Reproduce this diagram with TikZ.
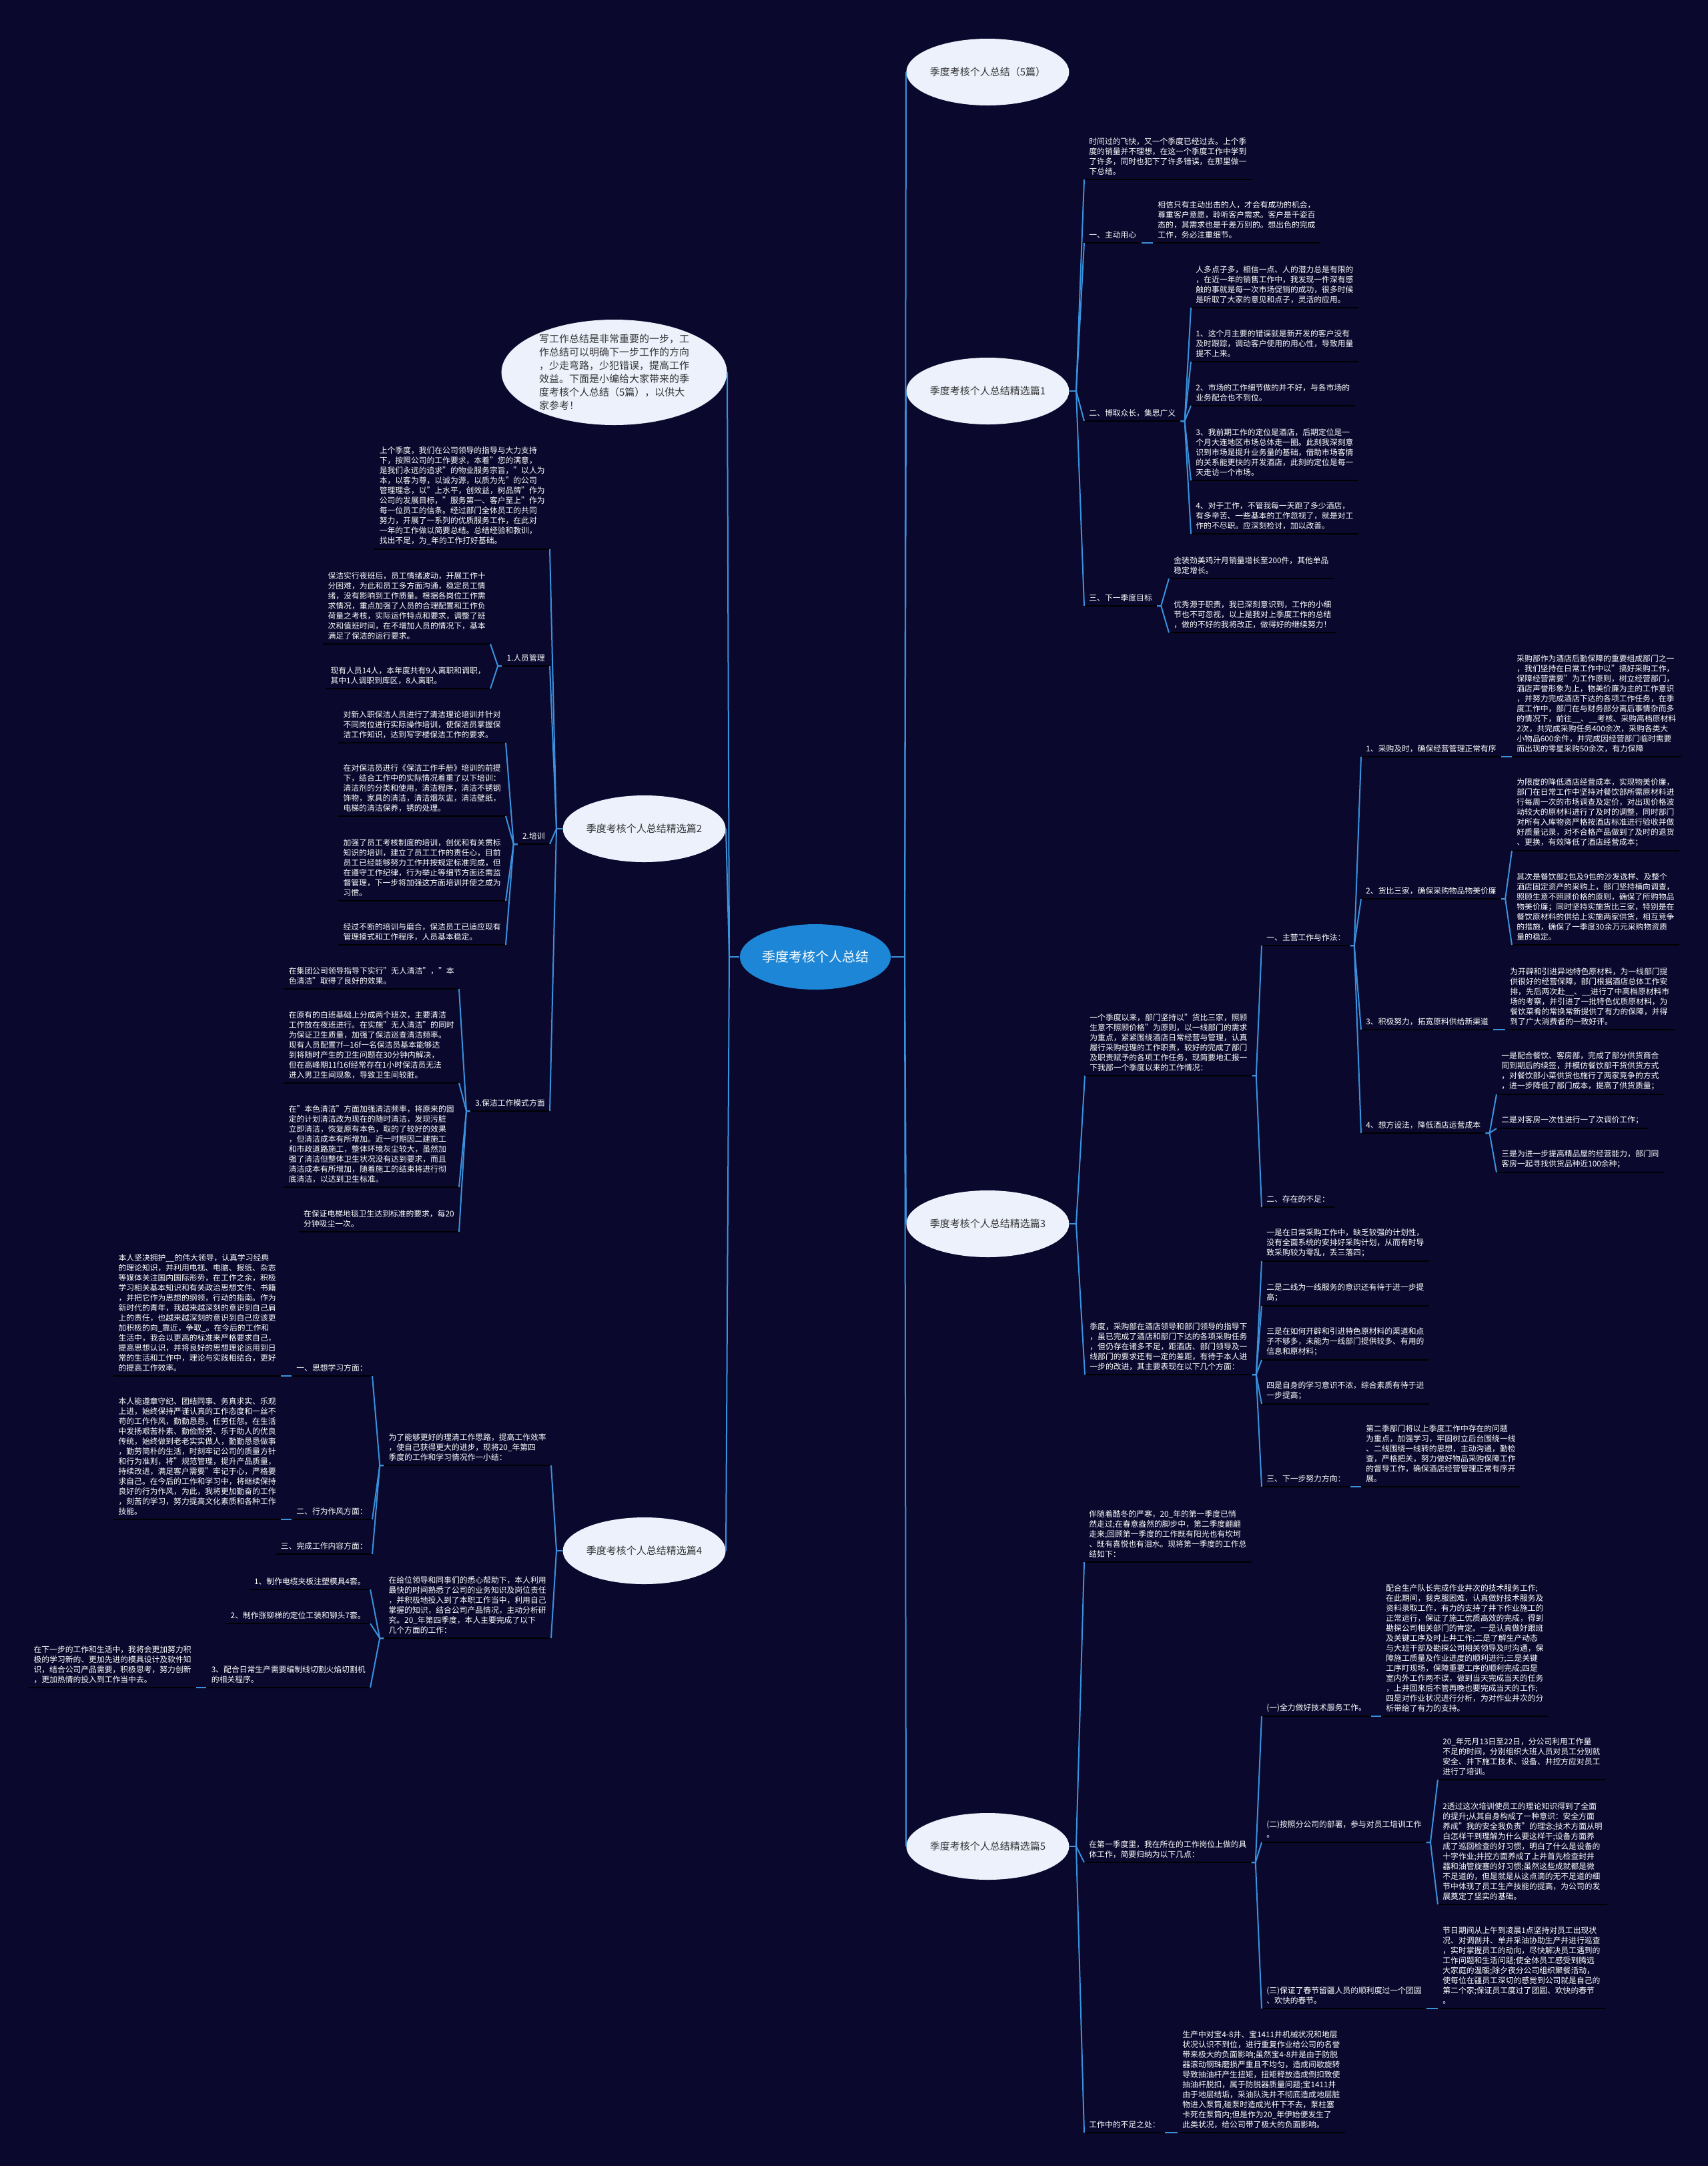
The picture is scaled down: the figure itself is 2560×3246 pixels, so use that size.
\documentclass[tikz,border=0pt]{standalone}
\usepackage{fontspec}
\setmainfont{Noto Sans CJK SC}
\usetikzlibrary{shapes.geometric}

\definecolor{bgnavy}{RGB}{10,8,44}
\definecolor{linkblue}{RGB}{58,146,222}
\definecolor{rootblue}{RGB}{30,134,214}
\definecolor{paleblue}{RGB}{236,241,252}
\definecolor{inkgrey}{RGB}{51,51,51}

\tikzset{
  uline/.style={draw=black, line width=0.9pt},
  link/.style={draw=linkblue, line width=1pt},
  txt/.style={anchor=south west, align=left, text=white, inner xsep=3.5pt, inner ysep=3pt,
    font=\fontsize{5.9}{7.5}\selectfont,
    append after command={(\tikzlastnode.south west) edge[uline] (\tikzlastnode.south east)}},
  txtl/.style={txt, anchor=south east},
  branch/.style={ellipse, fill=paleblue, text=inkgrey, minimum width=122pt, minimum height=50pt,
    inner xsep=-2pt, inner ysep=0pt, font=\fontsize{7.5}{10}\selectfont},
  centre/.style={ellipse, fill=rootblue, text=white, minimum width=112pt, minimum height=49pt,
    inner sep=0pt, font=\fontsize{10}{12}\selectfont}
}

\begin{document}
\begin{tikzpicture}[x=0.5pt, y=-0.5pt]
\fill[bgnavy] (0,0) rectangle (2560,3246);
\useasboundingbox (0,0) rectangle (2560,3246);

\node[centre] (root) at (1222,1434) {季度考核个人总结};
\node[branch, anchor=west] (top) at (1358,108) {季度考核个人总结（5篇）};
\node[branch, anchor=west] (p1) at (1358,586) {季度考核个人总结精选篇1};
\node[branch, anchor=west] (p3) at (1358,1834) {季度考核个人总结精选篇3};
\node[branch, anchor=west] (p5) at (1358,2767) {季度考核个人总结精选篇5};
\node[branch, anchor=east] (p2) at (1088,1242) {季度考核个人总结精选篇2};
\node[branch, anchor=east] (p4) at (1088,2324) {季度考核个人总结精选篇4};
\node[branch, anchor=east, minimum width=169pt, minimum height=79pt, inner xsep=0pt, inner ysep=-3pt, align=left] (intro) at (1090,558) {写工作总结是非常重要的一步，工\\作总结可以明确下一步工作的方向\\，少走弯路，少犯错误，提高工作\\效益。下面是小编给大家带来的季\\度考核个人总结（5篇），以供大\\家参考！};

\coordinate (rj) at (1356,1434);
\coordinate (lj) at (1093,1434);
\draw[link] (root.east) -- (rj);
\foreach \b in {top,p1,p3,p5} \draw[link] (rj) -- (\b.west);
\draw[link] (root.west) -- (lj);
\foreach \b in {intro,p2,p4} \draw[link] (lj) -- (\b.east);

\node[txt] (s1) at (1625,269) {时间过的飞快，又一个季度已经过去。上个季\\度的销量并不理想，在这一个季度工作中学到\\了许多，同时也犯下了许多错误，在那里做一\\下总结。};
\node[txt] (s1a) at (1625,364) {一、主动用心};
\node[txt] (s1a1) at (1728,364) {相信只有主动出击的人，才会有成功的机会，\\尊重客户意愿，聆听客户需求。客户是千姿百\\态的，其需求也是千差万别的。想出色的完成\\工作，务必注重细节。};
\node[txt] (s1b) at (1625,631) {二、博取众长，集思广义};
\node[txt] (s1b1) at (1785,461) {人多点子多，相信一点、人的潜力总是有限的\\，在近一年的销售工作中，我发现一件深有感\\触的事就是每一次市场促销的成功，很多时候\\是听取了大家的意见和点子，灵活的应用。};
\node[txt] (s1b2) at (1785,542) {1、这个月主要的错误就是新开发的客户没有\\及时跟踪，调动客户使用的用心性，导致用量\\提不上来。};
\node[txt] (s1b3) at (1785,608) {2、市场的工作细节做的并不好，与各市场的\\业务配合也不到位。};
\node[txt] (s1b4) at (1785,720) {3、我前期工作的定位是酒店，后期定位是一\\个月大连地区市场总体走一圈。此刻我深刻意\\识到市场是提升业务量的基础，借助市场客情\\的关系能更快的开发酒店，此刻的定位是每一\\天走访一个市场。};
\node[txt] (s1b5) at (1785,800) {4、对于工作，不管我每一天跑了多少酒店，\\有多辛苦、一些基本的工作忽视了，就是对工\\作的不尽职。应深刻检讨，加以改善。};
\node[txt] (s1c) at (1625,908) {三、下一季度目标};
\node[txt] (s1c1) at (1752,867) {金装劲美鸡汁月销量增长至200件，其他单品\\稳定增长。};
\node[txt] (s1c2) at (1752,948) {优秀源于职责，我已深刻意识到，工作的小细\\节也不可忽视，以上是我对上季度工作的总结\\，做的不好的我将改正，做得好的继续努力！};

\coordinate (j1) at (1613,586);
\draw[link] (p1.east) -- (j1);
\foreach \c in {s1,s1a,s1b,s1c} \draw[link] (j1) -- (\c.south west);
\draw[link] (s1a.south east) -- (s1a1.south west);
\coordinate (j1b) at ([xshift=3pt]s1b.south east);
\foreach \c in {s1b1,s1b2,s1b3,s1b4,s1b5} \draw[link] (s1b.south east) -- (j1b) -- (\c.south west);
\coordinate (j1c) at ([xshift=3pt]s1c.south east);
\foreach \c in {s1c1,s1c2} \draw[link] (s1c.south east) -- (j1c) -- (\c.south west);

\node[txt] (s3a) at (1626,1612) {一个季度以来，部门坚持以"货比三家，照顾\\生意不照顾价格"为原则，以一线部门的需求\\为重点，紧紧围绕酒店日常经营与管理，认真\\履行采购经理的工作职责，较好的完成了部门\\及职责赋予的各项工作任务，现简要地汇报一\\下我部一个季度以来的工作情况：};
\node[txt] (s3a1) at (1891,1417) {一、主营工作与作法：};
\node[txt] (s3a2) at (1891,1809) {二、存在的不足：};
\node[txt] (t1) at (2040,1134) {1、采购及时，确保经营管理正常有序};
\node[txt] (t1a) at (2266,1134) {采购部作为酒店后勤保障的重要组成部门之一\\，我们坚持在日常工作中以"搞好采购工作，\\保障经营需要"为工作原则，树立经营部门，\\酒店声誉形象为上，物美价廉为主的工作意识\\，并努力完成酒店下达的各项工作任务，在季\\度工作中，部门在与财务部分离后事情杂而多\\的情况下，前往\_\_、\_\_考核、采购高档原材料\\2次，共完成采购任务400余次，采购各类大\\小物品600余件，并完成因经营部门临时需要\\而出现的零星采购50余次，有力保障};
\node[txt] (t2) at (2040,1347) {2、货比三家，确保采购物品物美价廉};
\node[txt] (t2a) at (2266,1275) {为限度的降低酒店经营成本，实现物美价廉，\\部门在日常工作中坚持对餐饮部所需原材料进\\行每周一次的市场调查及定价，对出现价格波\\动较大的原材料进行了及时的调整，同时部门\\对所有入库物资严格按酒店标准进行验收并做\\好质量记录，对不合格产品做到了及时的退货\\、更换，有效降低了酒店经营成本；};
\node[txt] (t2b) at (2266,1416) {其次是餐饮部2包及9包的沙发选样、及整个\\酒店固定资产的采购上，部门坚持横向调查，\\照顾生意不照顾价格的原则，确保了所购物品\\物美价廉；同时坚持实施货比三家，特别是在\\餐饮原材料的供给上实施两家供货，相互竞争\\的措施，确保了一季度30余万元采购物资质\\量的稳定。};
\node[txt] (t3) at (2040,1543) {3、积极努力，拓宽原料供给新渠道};
\node[txt] (t3a) at (2256,1543) {为开辟和引进异地特色原材料，为一线部门提\\供很好的经营保障，部门根据酒店总体工作安\\排，先后两次赴\_\_、\_\_进行了中高档原材料市\\场的考察，并引进了一批特色优质原材料，为\\餐饮菜肴的常换常新提供了有力的保障，并得\\到了广大消费者的一致好评。};
\node[txt] (t4) at (2040,1698) {4、想方设法，降低酒店运营成本};
\node[txt] (t4a) at (2243,1640) {一是配合餐饮、客房部，完成了部分供货商合\\同到期后的续签，并模仿餐饮部干货供货方式\\，对餐饮部小菜供货也施行了两家竞争的方式\\，进一步降低了部门成本，提高了供货质量；};
\node[txt] (t4b) at (2243,1691) {二是对客房一次性进行一了次调价工作；};
\node[txt] (t4c) at (2243,1757) {三是为进一步提高精品屋的经营能力，部门同\\客房一起寻找供货品种近100余种；};
\node[txt] (s3b) at (1626,2060) {季度，采购部在酒店领导和部门领导的指导下\\，虽已完成了酒店和部门下达的各项采购任务\\，但仍存在诸多不足，距酒店、部门领导及一\\线部门的要求还有一定的差距，有待于本人进\\一步的改进，其主要表现在以下几个方面：};
\node[txt] (u1) at (1891,1890) {一是在日常采购工作中，缺乏较强的计划性，\\没有全面系统的安排好采购计划，从而有时导\\致采购较为零乱，丢三落四；};
\node[txt] (u2) at (1891,1957) {二是二线为一线服务的意识还有待于进一步提\\高；};
\node[txt] (u3) at (1891,2038) {三是在如何开辟和引进特色原材料的渠道和点\\子不够多，未能为一线部门提供较多、有用的\\信息和原材料；};
\node[txt] (u4) at (1891,2104) {四是自身的学习意识不浓，综合素质有待于进\\一步提高；};
\node[txt] (u5) at (1891,2228) {三、下一步努力方向：};
\node[txt] (u5a) at (2040,2228) {第二季部门将以上季度工作中存在的问题\\为重点，加强学习，牢固树立后台围绕一线\\、二线围绕一线转的思想，主动沟通，勤检\\查，严格把关，努力做好物品采购保障工作\\的督导工作，确保酒店经营管理正常有序开\\展。};

\coordinate (j3) at (1613,1834);
\draw[link] (p3.east) -- (j3);
\foreach \c in {s3a,s3b} \draw[link] (j3) -- (\c.south west);
\coordinate (j3a) at ([xshift=3pt]s3a.south east);
\foreach \c in {s3a1,s3a2} \draw[link] (s3a.south east) -- (j3a) -- (\c.south west);
\coordinate (j3a1) at ([xshift=3pt]s3a1.south east);
\foreach \c in {t1,t2,t3,t4} \draw[link] (s3a1.south east) -- (j3a1) -- (\c.south west);
\draw[link] (t1.south east) -- (t1a.south west);
\coordinate (j3t2) at ([xshift=3pt]t2.south east);
\foreach \c in {t2a,t2b} \draw[link] (t2.south east) -- (j3t2) -- (\c.south west);
\draw[link] (t3.south east) -- (t3a.south west);
\coordinate (j3t4) at ([xshift=3pt]t4.south east);
\foreach \c in {t4a,t4b,t4c} \draw[link] (t4.south east) -- (j3t4) -- (\c.south west);
\coordinate (j3b) at ([xshift=3pt]s3b.south east);
\foreach \c in {u1,u2,u3,u4,u5} \draw[link] (s3b.south east) -- (j3b) -- (\c.south west);
\draw[link] (u5.south east) -- (u5a.south west);

\node[txt] (s5a) at (1625,2341) {伴随着酷冬的严寒，20\_年的第一季度已悄\\然走过;在春意盎然的脚步中，第二季度翩翩\\走来;回顾第一季度的工作既有阳光也有坎坷\\、既有喜悦也有泪水。现将第一季度的工作总\\结如下：};
\node[txt] (s5b) at (1625,2791) {在第一季度里，我在所在的工作岗位上做的具\\体工作，简要归纳为以下几点：};
\node[txt] (v1) at (1891,2572) {(一)全力做好技术服务工作。};
\node[txt] (v1a) at (2070,2572) {配合生产队长完成作业井次的技术服务工作;\\在此期间，我克服困难，认真做好技术服务及\\资料录取工作，有力的支持了井下作业施工的\\正常运行，保证了施工优质高效的完成，得到\\勘探公司相关部门的肯定。一是认真做好跟班\\及关键工序及时上井工作;二是了解生产动态\\与大班干部及勘探公司相关领导及时沟通，保\\障施工质量及作业进度的顺利进行;三是关键\\工序盯现场，保障重要工序的顺利完成;四是\\室内外工作两不误，做到当天完成当天的任务\\，上井回来后不管再晚也要完成当天的工作;\\四是对作业状况进行分析，为对作业井次的分\\析带给了有力的支持。};
\node[txt] (v2) at (1891,2761) {(二)按照分公司的部署，参与对员工培训工作\\。};
\node[txt] (v2a) at (2155,2667) {20\_年元月13日至22日，分公司利用工作量\\不足的时间，分别组织大班人员对员工分别就\\安全、井下施工技术、设备、井控方应对员工\\进行了培训。};
\node[txt] (v2b) at (2155,2854) {2透过这次培训使员工的理论知识得到了全面\\的提升;从其自身构成了一种意识：安全方面\\养成"我的安全我负责"的理念;技术方面从明\\白怎样干到理解为什么要这样干;设备方面养\\成了巡回检查的好习惯，明白了什么是设备的\\十字作业;井控方面养成了上井首先检查封井\\器和油管旋塞的好习惯;虽然这些成就都是微\\不足道的，但是就是从这点滴的无不足道的细\\节中体现了员工生产技能的提高，为公司的发\\展奠定了坚实的基础。};
\node[txt] (v3) at (1891,3010) {(三)保证了春节留疆人员的顺利度过一个团圆\\、欢快的春节。};
\node[txt] (v3a) at (2155,3010) {节日期间从上午到凌晨1点坚持对员工出现状\\况、对调剖井、单井采油协助生产井进行巡查\\，实时掌握员工的动向，尽快解决员工遇到的\\工作问题和生活问题;使全体员工感受到腾远\\大家庭的温暖;除夕夜分公司组织聚餐活动，\\使每位在疆员工深切的感觉到公司就是自己的\\第二个家;保证员工度过了团圆、欢快的春节\\。};
\node[txt] (s5c) at (1625,3196) {工作中的不足之处：};
\node[txt] (s5c1) at (1765,3196) {生产中对宝4-8井、宝1411井机械状况和地层\\状况认识不到位，进行重复作业给公司的名誉\\带来极大的负面影响;虽然宝4-8井是由于防脱\\器滚动钢珠磨损严重且不均匀，造成间歇旋转\\导致抽油杆产生扭矩，扭矩释放造成倒扣致使\\抽油杆脱扣，属于防脱器质量问题;宝1411井\\由于地层结垢，采油队洗井不彻底造成地层脏\\物进入泵筒,碰泵时造成光杆下不去，泵柱塞\\卡死在泵筒内;但是作为20\_年伊始便发生了\\此类状况，给公司带了极大的负面影响。};

\coordinate (j5) at (1613,2767);
\draw[link] (p5.east) -- (j5);
\foreach \c in {s5a,s5b,s5c} \draw[link] (j5) -- (\c.south west);
\coordinate (j5b) at ([xshift=3pt]s5b.south east);
\foreach \c in {v1,v2,v3} \draw[link] (s5b.south east) -- (j5b) -- (\c.south west);
\draw[link] (v1.south east) -- (v1a.south west);
\coordinate (j5v2) at ([xshift=3pt]v2.south east);
\foreach \c in {v2a,v2b} \draw[link] (v2.south east) -- (j5v2) -- (\c.south west);
\draw[link] (v3.south east) -- (v3a.south west);
\draw[link] (s5c.south east) -- (s5c1.south west);

\node[txtl] (s2a) at (824,823) {上个季度，我们在公司领导的指导与大力支持\\下，按照公司的工作要求，本着"您的满意，\\是我们永远的追求"的物业服务宗旨，"以人为\\本，以客为尊，以诚为源，以质为先"的公司\\管理理念，以"上水平，创效益，树品牌"作为\\公司的发展目标，"服务第一、客户至上"作为\\每一位员工的信条。经过部门全体员工的共同\\努力，开展了一系列的优质服务工作，在此对\\一年的工作做以简要总结。总结经验和教训，\\找出不足，为\_年的工作打好基础。};
\node[txtl] (s2b) at (824,998) {1.人员管理};
\node[txtl] (s2b1) at (735,965) {保洁实行夜班后，员工情绪波动，开展工作十\\分困难，为此和员工多方面沟通，稳定员工情\\绪，没有影响到工作质量。根据各岗位工作需\\求情况，重点加强了人员的合理配置和工作负\\荷量之考核，实际运作特点和要求，调整了班\\次和值班时间，在不增加人员的情况下，基本\\满足了保洁的运行要求。};
\node[txtl] (s2b2) at (735,1032) {现有人员14人，本年度共有9人离职和调职，\\其中1人调职到库区，8人离职。};
\node[txtl] (s2c) at (824,1265) {2.培训};
\node[txtl] (s2c1) at (758,1113) {对新入职保洁人员进行了清洁理论培训并针对\\不同岗位进行实际操作培训，使保洁员掌握保\\洁工作知识，达到写字楼保洁工作的要求。};
\node[txtl] (s2c2) at (758,1223) {在对保洁员进行《保洁工作手册》培训的前提\\下，结合工作中的实际情况着重了以下培训：\\清洁剂的分类和使用，清洁程序，清洁不锈钢\\饰物，家具的清洁，清洁烟灰盅，清洁壁纸，\\电梯的清洁保养，锈的处理。};
\node[txtl] (s2c3) at (758,1350) {加强了员工考核制度的培训，创优和有关贯标\\知识的培训，建立了员工工作的责任心，目前\\员工已经能够努力工作并按规定标准完成，但\\在遵守工作纪律，行为举止等细节方面还需监\\督管理，下一步将加强这方面培训并使之成为\\习惯。};
\node[txtl] (s2c4) at (758,1416) {经过不断的培训与磨合，保洁员工已适应现有\\管理摸式和工作程序，人员基本稳定。};
\node[txtl] (s2d) at (824,1665) {3.保洁工作模式方面};
\node[txtl] (s2d1) at (688,1482) {在集团公司领导指导下实行"无人清洁"，"本\\色清洁"取得了良好的效果。};
\node[txtl] (s2d2) at (688,1623) {在原有的白班基础上分成两个班次，主要清洁\\工作放在夜班进行。在实施"无人清洁"的同时\\为保证卫生质量，加强了保洁巡查清洁频率。\\现有人员配置7f—16f一名保洁员基本能够达\\到将随时产生的卫生问题在30分钟内解决，\\但在高峰期11f16f经常存在1小时保洁员无法\\进入男卫生间现象，导致卫生间较脏。};
\node[txtl] (s2d3) at (688,1779) {在"本色清洁"方面加强清洁频率，将原来的固\\定的计划清洁改为现在的随时清洁，发现污脏\\立即清洁，恢复原有本色，取的了较好的效果\\，但清洁成本有所增加。近一时期因二建施工\\和市政道路施工，整体环境灰尘较大，虽然加\\强了清洁但整体卫生状况没有达到要求，而且\\清洁成本有所增加，随着施工的结束将进行彻\\底清洁，以达到卫生标准。};
\node[txtl] (s2d4) at (688,1846) {在保证电梯地毯卫生达到标准的要求，每20\\分钟吸尘一次。};

\coordinate (j2) at (834,1242);
\draw[link] (p2.west) -- (j2);
\foreach \c in {s2a,s2b,s2c,s2d} \draw[link] (j2) -- (\c.south east);
\coordinate (j2b) at ([xshift=-3pt]s2b.south west);
\foreach \c in {s2b1,s2b2} \draw[link] (s2b.south west) -- (j2b) -- (\c.south east);
\coordinate (j2c) at ([xshift=-3pt]s2c.south west);
\foreach \c in {s2c1,s2c2,s2c3,s2c4} \draw[link] (s2c.south west) -- (j2c) -- (\c.south east);
\coordinate (j2d) at ([xshift=-3pt]s2d.south west);
\foreach \c in {s2d1,s2d2,s2d3,s2d4} \draw[link] (s2d.south west) -- (j2d) -- (\c.south east);

\node[txtl] (s4a) at (826,2196) {为了能够更好的理清工作思路，提高工作效率\\，使自己获得更大的进步，现将20\_年第四\\季度的工作和学习情况作一小结：};
\node[txtl] (w1) at (558,2062) {一、思想学习方面：};
\node[txtl] (w1a) at (421,2062) {本人坚决拥护\_\_的伟大领导，认真学习经典\\的理论知识，并利用电视、电脑、报纸、杂志\\等媒体关注国内国际形势，在工作之余，积极\\学习相关基本知识和有关政治思想文件、书籍\\，并把它作为思想的纲领，行动的指南。作为\\新时代的青年，我越来越深刻的意识到自己肩\\上的责任，也越来越深刻的意识到自己应该更\\加积极的向\_靠近，争取\_。在今后的工作和\\生活中，我会以更高的标准来严格要求自己，\\提高思想认识，并将良好的思想理论运用到日\\常的生活和工作中，理论与实践相结合，更好\\的提高工作效率。};
\node[txtl] (w2) at (558,2277) {二、行为作风方面：};
\node[txtl] (w2a) at (421,2277) {本人能遵章守纪、团结同事、务真求实、乐观\\上进，始终保持严谨认真的工作态度和一丝不\\苟的工作作风，勤勤恳恳，任劳任怨。在生活\\中发扬艰苦朴素、勤俭耐劳、乐于助人的优良\\传统，始终做到老老实实做人，勤勤恳恳做事\\，勤劳简朴的生活，时刻牢记公司的质量方针\\和行为准则，将"规范管理，提升产品质量，\\持续改进，满足客户需要"牢记于心，严格要\\求自己。在今后的工作和学习中，将继续保持\\良好的行为作风，为此，我将更加勤奋的工作\\，刻苦的学习，努力提高文化素质和各种工作\\技能。};
\node[txtl] (w3) at (558,2329) {三、完成工作内容方面：};
\node[txtl] (s4b) at (826,2455) {在给位领导和同事们的悉心帮助下，本人利用\\最快的时间熟悉了公司的业务知识及岗位责任\\，并积极地投入到了本职工作当中，利用自己\\掌握的知识，结合公司产品情况，主动分析研\\究。20\_年第四季度，本人主要完成了以下\\几个方面的工作：};
\node[txtl] (x1) at (555,2382) {1、制作电缆夹板注塑模具4套。};
\node[txtl] (x2) at (555,2433) {2、制作涨铆梯的定位工装和铆头7套。};
\node[txtl] (x3) at (555,2529) {3、配合日常生产需要编制线切割火焰切割机\\的相关程序。};
\node[txtl] (x3a) at (294,2529) {在下一步的工作和生活中，我将会更加努力积\\极的学习新的、更加先进的模具设计及软件知\\识，结合公司产品需要，积极思考，努力创新\\，更加热情的投入到工作当中去。};

\coordinate (j4) at (834,2324);
\draw[link] (p4.west) -- (j4);
\foreach \c in {s4a,s4b} \draw[link] (j4) -- (\c.south east);
\coordinate (j4a) at ([xshift=-3pt]s4a.south west);
\foreach \c in {w1,w2,w3} \draw[link] (s4a.south west) -- (j4a) -- (\c.south east);
\draw[link] (w1.south west) -- (w1a.south east);
\draw[link] (w2.south west) -- (w2a.south east);
\coordinate (j4b) at ([xshift=-3pt]s4b.south west);
\foreach \c in {x1,x2,x3} \draw[link] (s4b.south west) -- (j4b) -- (\c.south east);
\draw[link] (x3.south west) -- (x3a.south east);
\end{tikzpicture}
\end{document}
